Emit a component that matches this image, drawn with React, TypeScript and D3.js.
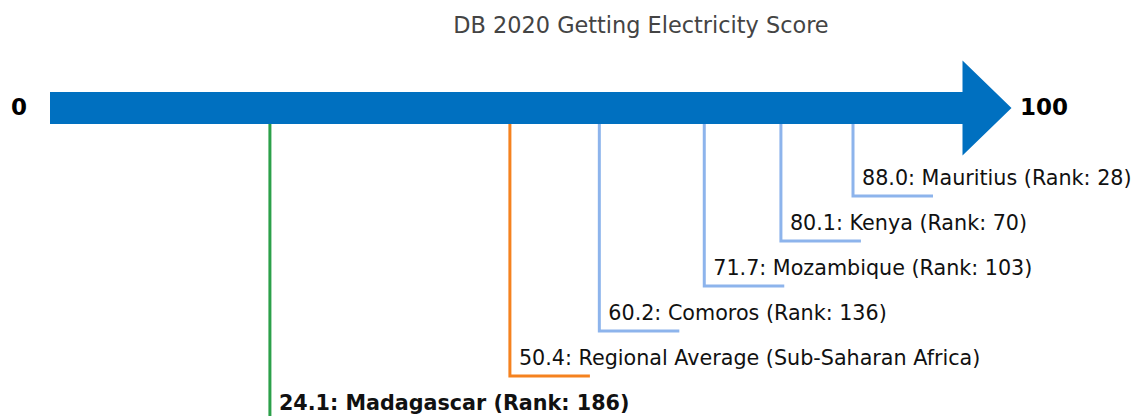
import React from "react";
import * as d3 from "d3";

const entities = ["Madagascar", "Regional Average (Sub-Saharan Africa)", "Comoros", "Mozambique", "Kenya", "Mauritius"];
const scores = [24.1, 50.4, 60.2, 71.7, 80.1, 88.0];
const ranks: (number | null)[] = [186, null, 136, 103, 70, 28];
const kinds = ["focus", "average", "peer", "peer", "peer", "peer"];
const axisLabels = ["0", "100"];
const titleText = "DB 2020 Getting Electricity Score";

const W = 1132;
const H = 416;

export default function App() {
  const x = d3.scaleLinear().domain([0, 100]).range([50, 962.5]);
  // level by rank order of score, highest score nearest the bar
  const order = d3.range(scores.length).sort((a, b) => scores[b] - scores[a]);
  const y = d3.scaleLinear().domain([0, 1]).range([196, 241]);
  const barY = 108;
  const barH = 32;
  const colors: Record<string, string> = {
    focus: "#2ca04a",
    average: "#f5821f",
    peer: "#8db4ec",
  };
  const x0 = x(0);
  const x100 = x(100);
  const headLen = 49;
  const headHalf = 47.5;
  const arrowPath = [
    `M${x0},${barY - barH / 2}`,
    `L${x100},${barY - barH / 2}`,
    `L${x100},${barY - headHalf}`,
    `L${x100 + headLen},${barY}`,
    `L${x100},${barY + headHalf}`,
    `L${x100},${barY + barH / 2}`,
    `L${x0},${barY + barH / 2}`,
    "Z",
  ].join("");

  return (
    <svg width={W} height={H} style={{ position: "absolute", left: 0, top: 0, display: "block" }} fontFamily="DejaVu Sans">
      <text x={641} y={32.5} textAnchor="middle" fontSize={22.4} fill="#444">
        {titleText}
      </text>
      {order.map((i, lvl) => {
        const xv = x(scores[i]);
        const yl = y(lvl);
        const label = `${scores[i].toFixed(1)}: ${entities[i]}` + (ranks[i] != null ? ` (Rank: ${ranks[i]})` : "");
        return (
          <g key={entities[i]}>
            <path
              d={`M${xv},${barY + barH / 2}L${xv},${yl}L${xv + 80},${yl}`}
              fill="none"
              stroke={colors[kinds[i]]}
              strokeWidth={3}
            />
            <text
              x={xv + 9}
              y={yl - 11}
              fontSize={20.7}
              fill="#111"
              fontWeight={kinds[i] === "focus" ? "bold" : "normal"}
            >
              {label}
            </text>
          </g>
        );
      })}
      <path d={arrowPath} fill="#0070c0" />
      <text x={19} y={115} textAnchor="middle" fontSize={23} fontWeight="bold" fill="#000">
        {axisLabels[0]}
      </text>
      <text x={1020} y={115} textAnchor="start" fontSize={23} fontWeight="bold" fill="#000">
        {axisLabels[1]}
      </text>
    </svg>
  );
}
